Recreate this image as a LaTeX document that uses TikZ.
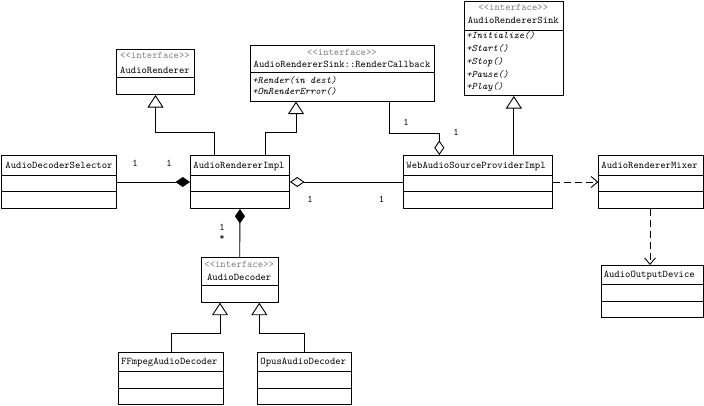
\documentclass[tikz,border=0pt]{standalone}
\usepackage{fontspec}
\usetikzlibrary{arrows.meta,calc}
\definecolor{stereo}{gray}{0.5}
\begin{document}
\begin{tikzpicture}[x=1pt,y=-1pt,
  line width=0.9pt,
  cls/.style={draw, line width=1pt, anchor=north west, inner sep=0pt, fill=white},
  txt/.style={font=\ttfamily\fontsize{10.2}{12}\selectfont, inner sep=0pt, text height=6pt, text depth=0pt},
  nm/.style={txt, anchor=west},
  cn/.style={txt, anchor=center},
  st/.style={txt, anchor=center, text=stereo},
  mt/.style={txt, anchor=west, font=\ttfamily\itshape\fontsize{10}{12}\selectfont},
  inh/.style={-{Triangle[open,length=12.5pt,width=16pt]}},
  comp/.style={-{Diamond[length=14.5pt,width=10pt]}},
  agg/.style={-{Diamond[open,length=14.5pt,width=10pt]}},
  dep/.style={dash pattern=on 7pt off 4pt, -{Straight Barb[length=6.5pt,width=11pt]}},
  mul/.style={txt, anchor=center}
]
\useasboundingbox (0,0) rectangle (704,405);

% ---- class boxes ----
\node[cls, minimum width=115.5pt, minimum height=53pt] (ads) at (0.5,155) {};
\node[cls, minimum width=99pt, minimum height=53pt] (ari) at (190,155) {};
\node[cls, minimum width=78pt, minimum height=45pt] (ar) at (116,49) {};
\node[cls, minimum width=184pt, minimum height=55.5pt] (rcb) at (250,45) {};
\node[cls, minimum width=98.7pt, minimum height=94pt] (ars) at (464,1) {};
\node[cls, minimum width=149pt, minimum height=53pt] (wasp) at (402.7,155) {};
\node[cls, minimum width=105pt, minimum height=53pt] (arm) at (598.3,155) {};
\node[cls, minimum width=102.5pt, minimum height=51.7pt] (aod) at (600.7,265) {};
\node[cls, minimum width=77pt, minimum height=44.4pt] (ad) at (200.7,257.3) {};
\node[cls, minimum width=105pt, minimum height=52.3pt] (ff) at (118.3,351.7) {};
\node[cls, minimum width=94pt, minimum height=52.3pt] (op) at (256.7,351.7) {};

% ---- compartment dividers ----
\foreach \n in {ads,ari,wasp,arm}{
  \draw[line width=1pt] ($(\n.north west)+(0,20)$) -- ($(\n.north east)+(0,20)$);
  \draw[line width=1pt] ($(\n.north west)+(0,36.7)$) -- ($(\n.north east)+(0,36.7)$);
}
\foreach \n in {ff,op}{
  \draw[line width=1pt] ($(\n.north west)+(0,20)$) -- ($(\n.north east)+(0,20)$);
  \draw[line width=1pt] ($(\n.north west)+(0,36.6)$) -- ($(\n.north east)+(0,36.6)$);
}
\draw[line width=1pt] ($(aod.north west)+(0,19)$) -- ($(aod.north east)+(0,19)$);
\draw[line width=1pt] ($(aod.north west)+(0,36)$) -- ($(aod.north east)+(0,36)$);
\draw[line width=1pt] ($(ar.north west)+(0,28.7)$) -- ($(ar.north east)+(0,28.7)$);
\draw[line width=1pt] ($(rcb.north west)+(0,27.3)$) -- ($(rcb.north east)+(0,27.3)$);
\draw[line width=1pt] ($(ars.north west)+(0,29)$) -- ($(ars.north east)+(0,29)$);
\draw[line width=1pt] ($(ad.north west)+(0,28.4)$) -- ($(ad.north east)+(0,28.4)$);

% ---- texts ----
\node[nm] (tads) at (5,165) {AudioDecoderSelector};
\node[nm] (tari) at (193,165) {AudioRendererImpl};
\node[st] (sar) at (155,55.5) {<{}<interface>{}>};
\node[cn] (tar) at (155,70) {AudioRenderer};
\node[st] (srcb) at (342,52.3) {<{}<interface>{}>};
\node[cn] (trcb) at (342,64.5) {AudioRendererSink::RenderCallback};
\node[mt] (m1) at (252,80) {+Render(in dest)};
\node[mt] (m2) at (252,91.7) {+OnRenderError()};
\node[st] (sars) at (513.3,7) {<{}<interface>{}>};
\node[cn] (tars) at (513.3,20) {AudioRendererSink};
\node[mt] (m3) at (466,35) {+Initialize()};
\node[mt] (m4) at (466,48.3) {+Start()};
\node[mt] (m5) at (466,61) {+Stop()};
\node[mt] (m6) at (466,74) {+Pause()};
\node[mt] (m7) at (466,86.7) {+Play()};
\node[nm] (twasp) at (406,165) {WebAudioSourceProviderImpl};
\node[nm] (tarm) at (601,165) {AudioRendererMixer};
\node[nm] (taod) at (603.3,274.3) {AudioOutputDevice};
\node[st] (sad) at (239.2,264.3) {<{}<interface>{}>};
\node[cn] (tad) at (239.2,277.7) {AudioDecoder};
\node[nm] (tff) at (120.7,361) {FFmpegAudioDecoder};
\node[nm] (top) at (260,361) {OpusAudioDecoder};

% ---- connectors ----
\draw[comp] (ads.east) -- (ari.west);
\draw[agg] (wasp.west) -- (ari.east);
\draw[dep] (wasp.east) -- (arm.west);
\coordinate (armb) at ($(arm.south west)+(51.7,0)$);
\draw[dep] (armb) -- (armb |- aod.north);
\draw[comp] (ad.north) -- (ari.south);
\draw[inh] (ff.north) -- ++(0,-18.4) -| ($(ad.south west)+(19.3,0)$);
\draw[inh] (op.north) -- ++(0,-18.4) -| ($(ad.south east)+(-19.4,0)$);
\draw[inh] ($(ari.north west)+(24,0)$) -- ++(0,-22.5) -| (ar.south);
\draw[inh] ($(ari.north east)+(-24.7,0)$) -- ++(0,-22.5) -| ($(rcb.south west)+(46,0)$);
\draw[agg] ($(rcb.south west)+(139.3,0)$) |- ($(wasp.north west)+(36.6,-21.7)$) -- ($(wasp.north west)+(36.6,0)$);
\draw[inh] (ars.south |- wasp.north) -- (ars.south);

% ---- multiplicities ----
\node[mul] (l1) at (135,163) {1};
\node[mul] (l2) at (169,163) {1};
\node[mul] (l3) at (310,199.5) {1};
\node[mul] (l4) at (381.5,199.5) {1};
\node[mul] (l5) at (406,122) {1};
\node[mul] (l6) at (456,132.5) {1};
\node[mul] (l7) at (222,227) {1};
\node[mul] (l8) at (222,237) {*};
\end{tikzpicture}
\end{document}
